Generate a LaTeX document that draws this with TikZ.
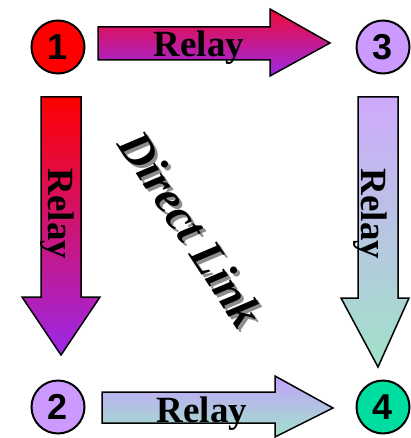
\documentclass[tikz,border=0pt]{standalone}
\usepackage{fontspec}
\setmainfont{Liberation Serif}
\newfontfamily\numfont{Liberation Sans}
\definecolor{lav}{HTML}{CC99FF}
\definecolor{mint}{HTML}{00DDA0}
\definecolor{crim}{HTML}{EE0C36}
\definecolor{purp}{HTML}{9C28E8}
\definecolor{lavtop}{HTML}{CEAAFC}
\definecolor{mintbot}{HTML}{A0E2C8}
\tikzset{
  num/.style={circle,draw=black,line width=2pt,minimum size=53pt,inner sep=0pt,
    font=\numfont\bfseries\fontsize{36}{36}\selectfont},
  blockarrow/.style={draw=black,line width=1.5pt,line join=miter},
  relay/.style={font=\bfseries\fontsize{37}{37}\selectfont,inner sep=0pt},
  direct/.style={font=\bfseries\itshape\fontsize{47}{47}\selectfont,inner sep=0pt,rotate=-57}
}
\begin{document}
\begin{tikzpicture}[x=1pt,y=-1pt]
\useasboundingbox (0,0) rectangle (410,438);
% nodes
\node[num,fill=red] (c1) at (58,47) {1};
\node[num,fill=lav] (c3) at (383,47) {3};
\node[num,fill=lav] (c2) at (58,407) {2};
\node[num,fill=mint] (c4) at (383,407) {4};
% top arrow
\path[blockarrow,top color=crim,bottom color=purp]
  (98,27) -- (270,27) -- (270,9) -- (330,43) -- (270,76) -- (270,60) -- (98,60) -- cycle;
\node[relay,anchor=base] (r13) at (199,57) {Relay};
% left arrow
\path[blockarrow,top color=red,bottom color=purp]
  (41,97) -- (81,97) -- (81,297) -- (100,297) -- (61,355) -- (22,297) -- (41,297) -- cycle;
\node[relay,rotate=-90] (r12) at (57,214) {Relay};
% right arrow
\path[blockarrow,top color=lavtop,bottom color=mintbot]
  (358,97) -- (398,97) -- (398,298) -- (409,298) -- (378,367) -- (341,298) -- (358,298) -- cycle;
\node[relay,rotate=-90] (r34) at (370,214) {Relay};
% bottom arrow
\path[blockarrow,top color=lavtop!95!blue,bottom color=mintbot]
  (102,392) -- (275,392) -- (275,376) -- (333,408) -- (275,437) -- (275,423) -- (102,423) -- cycle;
\node[relay,anchor=base] (r24) at (202,422) {Relay};
% direct link (with shadow)
\node[direct,text=black!45] at (194,232) {Direct Link};
\node[direct] (dl) at (191,229) {Direct Link};
\end{tikzpicture}
\end{document}
